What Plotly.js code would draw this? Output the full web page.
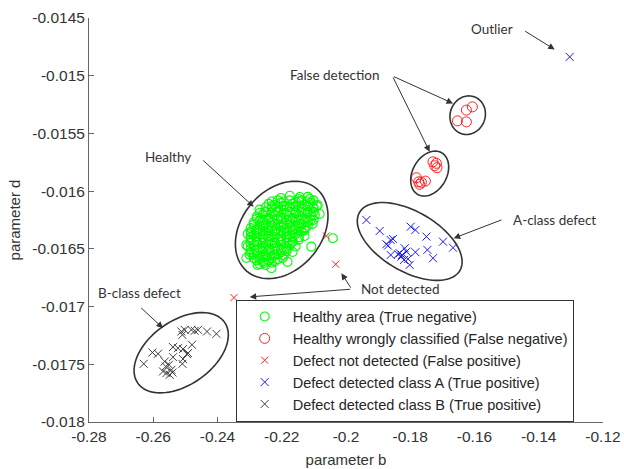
<!DOCTYPE html>
<html><head><meta charset="utf-8">
<script src="https://cdn.plot.ly/plotly-3.0.1.min.js"></script>
<style>html,body{margin:0;padding:0;background:#fff}#chart{width:624px;height:469px}</style>
</head><body><div id="chart"></div>
<script>
// ---- Data (parameter b, parameter d) ----
const seriesNames = [
  "Healthy area (True negative)",
  "Healthy wrongly classified (False negative)",
  "Defect not detected (False positive)",
  "Defect detected class A (True positive)",
  "Defect detected class B (True positive)"
];
const greenX = [
  -0.2203,-0.2175,-0.2147,-0.2119,
  -0.2241,-0.2222,-0.2203,-0.2185,-0.2166,-0.2147,-0.2129,-0.2110,-0.2091,
  -0.2269,-0.2250,-0.2231,-0.2213,-0.2194,-0.2175,-0.2157,-0.2138,-0.2119,-0.2101,
  -0.2278,-0.2259,-0.2241,-0.2222,-0.2203,-0.2185,-0.2166,-0.2147,-0.2129,-0.2110,
  -0.2287,-0.2269,-0.2250,-0.2231,-0.2213,-0.2194,-0.2175,-0.2157,-0.2138,-0.2119,-0.2101,
  -0.2297,-0.2278,-0.2259,-0.2241,-0.2222,-0.2203,-0.2185,-0.2166,-0.2147,-0.2129,
  -0.2306,-0.2287,-0.2269,-0.2250,-0.2231,-0.2213,-0.2194,-0.2175,-0.2157,-0.2138,
  -0.2297,-0.2278,-0.2259,-0.2241,-0.2222,-0.2203,-0.2185,-0.2166,-0.2147,
  -0.2306,-0.2287,-0.2269,-0.2250,-0.2231,-0.2213,-0.2194,-0.2175,-0.2157,
  -0.2297,-0.2278,-0.2259,-0.2241,-0.2222,-0.2203,-0.2185,
  -0.2287,-0.2269,-0.2250,-0.2231,-0.2213,
  -0.2269,-0.2250,-0.2231,
  -0.2231,-0.2213,-0.2194,-0.2175,-0.2157,-0.2138,-0.2119,-0.2101,
  -0.2250,-0.2231,-0.2213,-0.2194,-0.2175,-0.2157,-0.2138,-0.2119,-0.2101,
  -0.2269,-0.2250,-0.2231,-0.2213,-0.2194,-0.2175,-0.2157,-0.2138,-0.2119,-0.2101,
  -0.2278,-0.2259,-0.2241,-0.2222,-0.2203,-0.2185,-0.2166,-0.2147,-0.2129,-0.2110,
  -0.2287,-0.2269,-0.2250,-0.2231,-0.2213,-0.2194,-0.2175,-0.2157,-0.2138,-0.2119,
  -0.2297,-0.2278,-0.2259,-0.2241,-0.2222,-0.2203,-0.2185,-0.2166,-0.2147,-0.2129,
  -0.2297,-0.2278,-0.2259,-0.2241,-0.2222,-0.2203,-0.2185,-0.2166,-0.2147,
  -0.2297,-0.2278,-0.2259,-0.2241,-0.2222,-0.2203,-0.2185,-0.2166,
  -0.2297,-0.2278,-0.2259,-0.2241,-0.2222,-0.2203,-0.2185,
  -0.2287,-0.2269,-0.2250,-0.2231,-0.2213,-0.2194,
  -0.2278,-0.2259,-0.2241,-0.2222,
  -0.2088,-0.2097,-0.2104,-0.2129,-0.2108,-0.2041,-0.2166,-0.2197,-0.2232,-0.2256,
  -0.2310,-0.2310,-0.2295,-0.2144,-0.2113,-0.2182,-0.2082,-0.2300,-0.2275
];
const greenY = [
  -0.01606,-0.01604,-0.01607,-0.01605,
  -0.01611,-0.01612,-0.01610,-0.01613,-0.01611,-0.01609,-0.01612,-0.01610,-0.01613,
  -0.01616,-0.01618,-0.01615,-0.01617,-0.01616,-0.01614,-0.01617,-0.01616,-0.01618,-0.01615,
  -0.01622,-0.01620,-0.01623,-0.01621,-0.01622,-0.01620,-0.01623,-0.01621,-0.01619,-0.01622,
  -0.01627,-0.01626,-0.01628,-0.01627,-0.01625,-0.01628,-0.01627,-0.01626,-0.01628,-0.01627,-0.01625,
  -0.01632,-0.01633,-0.01631,-0.01632,-0.01634,-0.01631,-0.01632,-0.01633,-0.01631,-0.01632,
  -0.01637,-0.01638,-0.01636,-0.01637,-0.01639,-0.01637,-0.01636,-0.01638,-0.01637,-0.01635,
  -0.01642,-0.01643,-0.01641,-0.01642,-0.01644,-0.01642,-0.01641,-0.01643,-0.01642,
  -0.01648,-0.01647,-0.01649,-0.01648,-0.01646,-0.01648,-0.01649,-0.01647,-0.01648,
  -0.01653,-0.01654,-0.01652,-0.01653,-0.01655,-0.01653,-0.01652,
  -0.01658,-0.01659,-0.01657,-0.01658,-0.01659,
  -0.01663,-0.01664,-0.01662,
  -0.01609,-0.01608,-0.01609,-0.01608,-0.01609,-0.01608,-0.01609,-0.01608,
  -0.01614,-0.01613,-0.01614,-0.01613,-0.01614,-0.01613,-0.01614,-0.01613,-0.01614,
  -0.01619,-0.01618,-0.01619,-0.01618,-0.01619,-0.01618,-0.01619,-0.01618,-0.01619,-0.01618,
  -0.01624,-0.01625,-0.01624,-0.01625,-0.01624,-0.01625,-0.01624,-0.01625,-0.01624,-0.01625,
  -0.01629,-0.01630,-0.01629,-0.01630,-0.01629,-0.01630,-0.01629,-0.01630,-0.01629,-0.01630,
  -0.01635,-0.01634,-0.01635,-0.01634,-0.01635,-0.01634,-0.01635,-0.01634,-0.01635,-0.01634,
  -0.01640,-0.01639,-0.01640,-0.01639,-0.01640,-0.01639,-0.01640,-0.01639,-0.01640,
  -0.01645,-0.01644,-0.01645,-0.01644,-0.01645,-0.01644,-0.01645,-0.01644,
  -0.01650,-0.01651,-0.01650,-0.01651,-0.01650,-0.01651,-0.01650,
  -0.01655,-0.01656,-0.01655,-0.01656,-0.01655,-0.01656,
  -0.01660,-0.01661,-0.01660,-0.01661,
  -0.016120,-0.016207,-0.016284,-0.016388,-0.016481,-0.016408,-0.016527,-0.016579,-0.016668,-0.016622,
  -0.016579,-0.016466,-0.016362,-0.016051,-0.016068,-0.016613,-0.016198,-0.016550,-0.016640
];
const redCircleX = [-0.16252,-0.16066,-0.16532,-0.16252,
  -0.17292,-0.17186,-0.17167,-0.17239,-0.17809,-0.17737,-0.17653,-0.17529,-0.17706];
const redCircleY = [-0.015298,-0.015270,-0.015391,-0.015400,
  -0.015746,-0.015759,-0.015797,-0.015780,-0.015884,-0.015919,-0.015924,-0.015913,-0.015941];
const redCrossX = [-0.20610,-0.20321,-0.23486];
const redCrossY = [-0.016388,-0.016633,-0.016922];
const blueX = [-0.13037,
  -0.19365,-0.18951,-0.17986,-0.17840,-0.17497,-0.16981,-0.16669,-0.17466,-0.17292,-0.17840,
  -0.18609,-0.18537,-0.18743,-0.18693,-0.18609,-0.18329,-0.18257,-0.18173,-0.18120,-0.18070,
  -0.18017,-0.18195,-0.18276,-0.18381];
const blueY = [-0.014837,
  -0.016250,-0.016345,-0.016308,-0.016336,-0.016394,-0.016438,-0.016490,-0.016509,-0.016581,-0.016529,
  -0.016423,-0.016414,-0.016460,-0.016472,-0.016553,-0.016538,-0.016553,-0.016495,-0.016524,-0.016587,
  -0.016639,-0.016596,-0.016567,-0.016547];
const blackX = [-0.26297,-0.26026,-0.25852,-0.25385,-0.25385,-0.25230,-0.25074,-0.24918,-0.24949,-0.24794,
  -0.25124,-0.25093,-0.25021,-0.24812,-0.24710,-0.24607,-0.24327,-0.24034,-0.25074,-0.25093,
  -0.25644,-0.25510,-0.25697,-0.25591,-0.25435,-0.25404,-0.25488,-0.25612];
const blackY = [-0.017496,-0.017398,-0.017409,-0.017438,-0.017351,-0.017360,-0.017368,-0.017403,-0.017412,-0.017331,
  -0.017216,-0.017245,-0.017202,-0.017202,-0.017210,-0.017202,-0.017216,-0.017236,-0.017455,-0.017496,
  -0.017476,-0.017504,-0.017562,-0.017576,-0.017548,-0.017571,-0.017591,-0.017519];

const xTickVals = [-0.28,-0.26,-0.24,-0.22,-0.2,-0.18,-0.16,-0.14,-0.12];
const xTickText = ["-0.28","-0.26","-0.24","-0.22","-0.2","-0.18","-0.16","-0.14","-0.12"];
const yTickVals = [-0.018,-0.0175,-0.017,-0.0165,-0.016,-0.0155,-0.015,-0.0145];
const yTickText = ["-0.018","-0.0175","-0.017","-0.0165","-0.016","-0.0155","-0.015","-0.0145"];

// Ellipse groupings: centre (data), semi-axes (px), rotation (deg, screen)
const ellipseCX = [-0.22002,-0.16212,-0.17395,-0.18017,-0.25130];
const ellipseCY = [-0.016336,-0.015342,-0.015848,-0.016436,-0.017400];
const ellipseA  = [54, 19.5, 24, 58, 53];
const ellipseB  = [40, 17.5, 17, 30, 32];
const ellipseAng= [-50, -70, -60, 30, -35];

// Callout labels
const labelText = ["Outlier","False detection","Healthy","A-class defect","Not detected","B-class defect"];
const labelX = [-0.15443,-0.20352,-0.25550,-0.13504,-0.18329,-0.26422];
const labelY = [-0.014598,-0.014996,-0.015702,-0.016250,-0.016849,-0.016884];
// arrows: tail -> head
const arrowTailX = [-0.14469,-0.18556,-0.18556,-0.24492,-0.15113,-0.19823,-0.19823,-0.26422];
const arrowTailY = [-0.014606,-0.015002,-0.015002,-0.015722,-0.016244,-0.016849,-0.016849,-0.017000];
const arrowHeadX = [-0.13504,-0.16669,-0.17395,-0.22873,-0.16648,-0.20143,-0.22998,-0.25697];
const arrowHeadY = [-0.014773,-0.015240,-0.015659,-0.016135,-0.016408,-0.016711,-0.016916,-0.017187];

// ---- Layout geometry ----
const W = 624, H = 469;
const M = {l: 89, r: 21, t: 18, b: 47, pad: 0};
const xRange = [-0.28, -0.12], yRange = [-0.018, -0.0145];
const kx = (W - M.l - M.r) / (xRange[1] - xRange[0]);
const ky = (H - M.t - M.b) / (yRange[1] - yRange[0]);

function ellipsePath(cx, cy, a, b, angDeg) {
  const th = angDeg * Math.PI / 180;
  let d = "";
  const n = 90;
  for (let i = 0; i <= n; i++) {
    const t = 2 * Math.PI * i / n;
    const dx = a * Math.cos(t) * Math.cos(th) - b * Math.sin(t) * Math.sin(th);
    const dy = a * Math.cos(t) * Math.sin(th) + b * Math.sin(t) * Math.cos(th);
    const x = cx + dx / kx, y = cy - dy / ky;
    d += (i === 0 ? "M" : "L") + x + "," + y + " ";
  }
  return d + "Z";
}

const FONT = "Arial, 'Liberation Sans', sans-serif";
const traces = [
  {x: greenX, y: greenY, name: seriesNames[0], type: "scatter", mode: "markers",
   marker: {symbol: "circle-open", size: 9, color: "#00ff00", line: {width: 1.1}}},
  {x: redCircleX, y: redCircleY, name: seriesNames[1], type: "scatter", mode: "markers",
   marker: {symbol: "circle-open", size: 10, color: "#ff2020", line: {width: 1}}},
  {x: redCrossX, y: redCrossY, name: seriesNames[2], type: "scatter", mode: "markers",
   marker: {symbol: "x-thin-open", size: 7, color: "#ff2020", line: {width: 1}}},
  {x: blueX, y: blueY, name: seriesNames[3], type: "scatter", mode: "markers",
   marker: {symbol: "x-thin-open", size: 8, color: "#1a1aff", line: {width: 1}}},
  {x: blackX, y: blackY, name: seriesNames[4], type: "scatter", mode: "markers",
   marker: {symbol: "x-thin-open", size: 8, color: "#404040", line: {width: 1}}}
];

const shapes = ellipseCX.map((cx, i) => ({
  type: "path", xref: "x", yref: "y",
  path: ellipsePath(cx, ellipseCY[i], ellipseA[i], ellipseB[i], ellipseAng[i]),
  line: {color: "#333333", width: 1.6}, layer: "above"
}));

const annotations = [];
labelText.forEach((t, i) => annotations.push({
  x: labelX[i], y: labelY[i], xref: "x", yref: "y", text: t, showarrow: false,
  font: {family: "Lato, 'Open Sans', sans-serif", size: 13.5, color: "#333333"}
}));
arrowTailX.forEach((tx, i) => annotations.push({
  x: arrowHeadX[i], y: arrowHeadY[i], xref: "x", yref: "y",
  ax: tx, ay: arrowTailY[i], axref: "x", ayref: "y",
  text: "", showarrow: true, arrowhead: 2, arrowsize: 1.3, arrowwidth: 1, arrowcolor: "#333333"
}));

const axisCommon = {
  showline: true, linecolor: "#666666", linewidth: 1, mirror: false,
  ticks: "inside", ticklen: 5, tickcolor: "#666666", showgrid: false, zeroline: false,
  tickfont: {family: FONT, size: 15.5, color: "#333333"}
};

const layout = {
  width: W, height: H, margin: M,
  paper_bgcolor: "#ffffff", plot_bgcolor: "#ffffff",
  xaxis: Object.assign({}, axisCommon, {range: xRange, tickvals: xTickVals, ticktext: xTickText,
    title: {text: "parameter b", font: {family: FONT, size: 15, color: "#333333"}, standoff: 10}}),
  yaxis: Object.assign({}, axisCommon, {range: yRange, tickvals: yTickVals, ticktext: yTickText,
    title: {text: "parameter d", font: {family: FONT, size: 15, color: "#333333"}, standoff: 8}}),
  showlegend: true,
  legend: {x: 0.2854, y: 0.303, xanchor: "left", yanchor: "top",
    bgcolor: "#ffffff", bordercolor: "#333333", borderwidth: 1,
    font: {family: FONT, size: 14.5, color: "#262626"}, itemwidth: 46},
  shapes: shapes, annotations: annotations
};

Plotly.newPlot("chart", traces, layout, {displayModeBar: false, staticPlot: true});
</script>
</body></html>
